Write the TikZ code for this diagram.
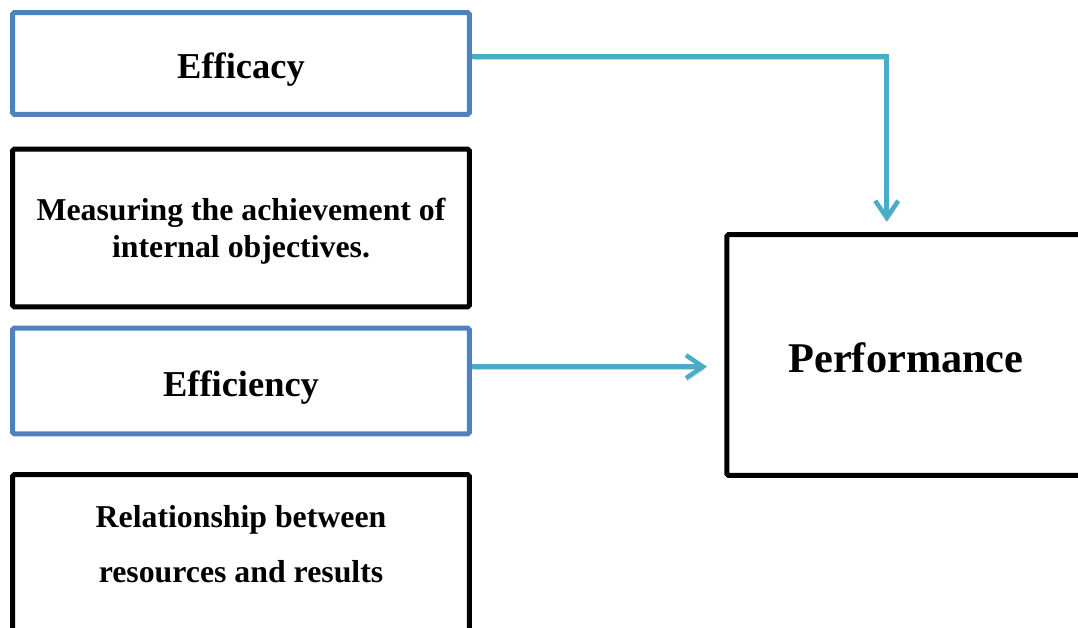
\documentclass[tikz,border=0pt]{standalone}
\usepackage{fontspec}
\setmainfont{Liberation Serif}
\usetikzlibrary{arrows.meta,calc}
\definecolor{boxblue}{RGB}{79,129,189}
\definecolor{arrowblue}{RGB}{75,172,198}

\begin{document}
\begin{tikzpicture}[x=0.02cm, y=-0.02cm,
	cell/.style={draw, line width=0.1cm, rounded corners=1pt, minimum width=9.14cm, align=center},
	box/.style={cell, draw=boxblue, text height=17.4pt, text depth=0pt, font=\bfseries\fontsize{20.75}{25}\selectfont},
	note/.style={cell, draw=black, font=\bfseries\fontsize{18.1}{21}\selectfont},
	link/.style={draw=arrowblue, line width=0.09cm, -{Straight Barb[length=0.34cm,width=0.46cm]},
		preaction={draw=black!18, transform canvas={xshift=0.6pt,yshift=-1.6pt}}}]
	\useasboundingbox (0,0) rectangle (1078,628);
	\clip (0,0) rectangle (1078,628);
	
	\node [box, minimum height=2.04cm] (efficacy) at (241,63.5) {Efficacy};
	\node [note, minimum height=3.16cm, text depth=-0.6pt] (measure) at (241,228) {Measuring the achievement of\\internal objectives.};
	\node [box, minimum height=2.12cm] (efficiency) at (241,381) {Efficiency};
	\node [note, anchor=north, inner ysep=0.62cm, font=\bfseries\fontsize{18.1}{31.2}\selectfont] (relation) at (241,472)
		{Relationship between\\resources and results\\[0.5cm]\mbox{}};
	\node [cell, draw=black, minimum width=7.17cm, minimum height=4.82cm, text height=20.2pt, text depth=0pt,
		font=\bfseries\fontsize{24.1}{29}\selectfont] (perf) at (906,355) {Performance};
	
	\coordinate (e1) at ($(efficacy.east)+(0,-6.8)$);
	\coordinate (e2) at ($(efficiency.east)+(0,-14.3)$);
	\draw [link] (e1) -| ($(perf.north)+(-19.3,-10.3)$);
	\draw [link] (e2) -- ($(perf.west |- e2)+(-17.3,0)$);
\end{tikzpicture}
\end{document}
